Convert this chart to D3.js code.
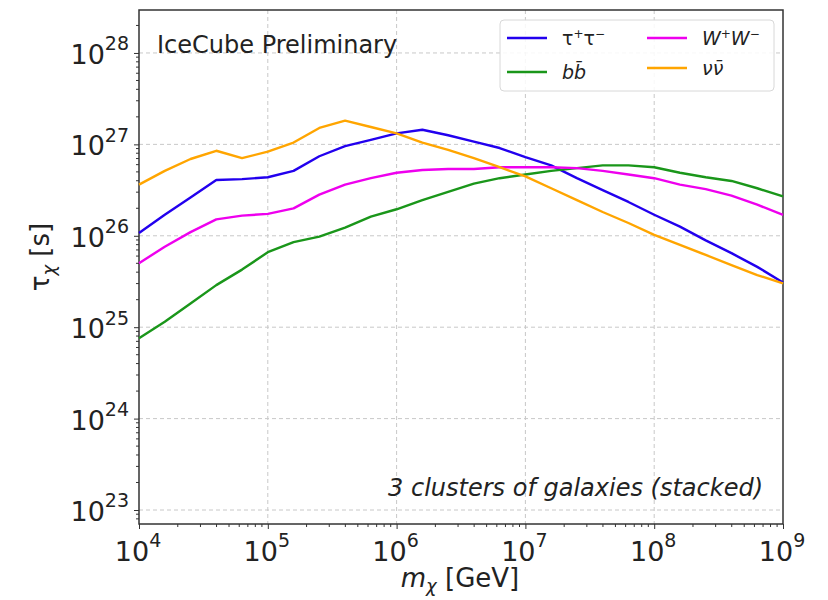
<!DOCTYPE html>
<html>
<head>
<meta charset="utf-8">
<script src="https://cdn.jsdelivr.net/npm/d3@7"></script>
<style>
  body { margin: 0; background: #fff; }
  svg { font-family: "DejaVu Sans", sans-serif; }
  .grid line { stroke: #c8c8c8; stroke-dasharray: 4,3; stroke-width: 1; }
  .axis path, .axis line { stroke: #333; }
</style>
</head>
<body>
<div class="chart"></div>
<script>

//////////
// DATA //
//////////

// log10 of the mass grid (GeV)
var logMass = [4.0, 4.2, 4.4, 4.6, 4.8, 5.0, 5.2, 5.4, 5.6, 5.8, 6.0, 6.2, 6.4,
               6.6, 6.8, 7.0, 7.2, 7.4, 7.6, 7.8, 8.0, 8.2, 8.4, 8.6, 8.8, 9.0];

// log10 of lifetime limits (s)
var tauTau = [26.03, 26.23, 26.42, 26.61, 26.62, 26.64, 26.71, 26.87, 26.98, 27.05, 27.12, 27.16, 27.10,
              27.03, 26.96, 26.86, 26.77, 26.63, 26.50, 26.37, 26.23, 26.10, 25.95, 25.81, 25.66, 25.49];
var bb = [24.88, 25.06, 25.26, 25.46, 25.63, 25.82, 25.93, 25.99, 26.09, 26.21, 26.29, 26.39, 26.48,
          26.57, 26.63, 26.67, 26.71, 26.74, 26.77, 26.77, 26.75, 26.69, 26.64, 26.60, 26.52, 26.43];
var WW = [25.70, 25.88, 26.04, 26.18, 26.22, 26.24, 26.30, 26.45, 26.56, 26.63, 26.69, 26.72, 26.73,
          26.73, 26.75, 26.75, 26.75, 26.74, 26.71, 26.67, 26.63, 26.56, 26.51, 26.44, 26.34, 26.23];
var nuNu = [26.56, 26.71, 26.84, 26.93, 26.85, 26.92, 27.02, 27.18, 27.26, 27.19, 27.12, 27.02, 26.94,
            26.85, 26.75, 26.65, 26.52, 26.39, 26.26, 26.14, 26.01, 25.90, 25.79, 25.68, 25.57, 25.48];

var xTicks = [4, 5, 6, 7, 8, 9];
var yTicks = [23, 24, 25, 26, 27, 28];

var series = [
    { name: 'tau', values: tauTau, color: '#2200ee' },
    { name: 'bb', values: bb, color: '#1a961a' },
    { name: 'WW', values: WW, color: '#ee00ee' },
    { name: 'nunu', values: nuNu, color: '#ffa500' }
];

////////////////
// DIMENSIONS //
////////////////

var w = 828, h = 600;
var mLeft = 139, mRight = 783, mTop = 10, mBottom = 524;

var svg = d3.select('.chart')
    .append('svg')
    .attr('width', w)
    .attr('height', h);

////////////
// SCALES //
////////////

var xScale = d3.scaleLog()
    .domain([1e4, 1e9])
    .range([mLeft, mRight]);

// bottom and top of the frame sit a bit beyond 10^23 / 10^28
var yScale = d3.scaleLog()
    .domain([Math.pow(10, 22.847), Math.pow(10, 28.47)])
    .range([mBottom, mTop]);

//////////
// GRID //
//////////

var grid = svg.append('g').attr('class', 'grid');

grid.selectAll('.gx')
    .data(xTicks.slice(1, -1))
    .enter()
    .append('line')
    .attr('x1', function(d) { return xScale(Math.pow(10, d)); })
    .attr('x2', function(d) { return xScale(Math.pow(10, d)); })
    .attr('y1', mTop)
    .attr('y2', mBottom);

grid.selectAll('.gy')
    .data(yTicks)
    .enter()
    .append('line')
    .attr('x1', mLeft)
    .attr('x2', mRight)
    .attr('y1', function(d) { return yScale(Math.pow(10, d)); })
    .attr('y2', function(d) { return yScale(Math.pow(10, d)); });

//////////
// AXES //
//////////

function supLabel(sel, d) {
    sel.text(null);
    sel.append('tspan').text('10');
    sel.append('tspan')
        .attr('dy', '-0.72em')
        .style('font-size', '19px')
        .text(d);
}

var xAxis = d3.axisBottom(xScale)
    .tickValues(xTicks.map(function(d) { return Math.pow(10, d); }))
    .tickSize(5)
    .tickFormat('');

var xg = svg.append('g')
    .attr('class', 'axis')
    .attr('transform', 'translate(0,' + mBottom + ')')
    .call(xAxis);
xg.select('.domain').remove();

// minor x ticks
var xMinor = [];
xTicks.slice(0, -1).forEach(function(p) {
    for (var k = 2; k < 10; k++) xMinor.push(k * Math.pow(10, p));
});
svg.append('g').selectAll('line')
    .data(xMinor)
    .enter()
    .append('line')
    .attr('x1', function(d) { return xScale(d); })
    .attr('x2', function(d) { return xScale(d); })
    .attr('y1', mBottom)
    .attr('y2', mBottom + 3)
    .attr('stroke', '#333');

svg.append('g').selectAll('text')
    .data(xTicks)
    .enter()
    .append('text')
    .attr('x', function(d) { return xScale(Math.pow(10, d)) - 1; })
    .attr('y', mBottom + 37)
    .attr('text-anchor', 'middle')
    .style('font-size', '27px')
    .style('fill', '#222')
    .each(function(d) { supLabel(d3.select(this), d); });

var yAxis = d3.axisLeft(yScale)
    .tickValues(yTicks.map(function(d) { return Math.pow(10, d); }))
    .tickSize(5)
    .tickFormat('');

var yg = svg.append('g')
    .attr('class', 'axis')
    .attr('transform', 'translate(' + mLeft + ',0)')
    .call(yAxis);
yg.select('.domain').remove();

var yMinor = [];
[22, 23, 24, 25, 26, 27, 28].forEach(function(p) {
    for (var k = 2; k < 10; k++) {
        var v = k * Math.pow(10, p);
        if (yScale(v) > mTop && yScale(v) < mBottom) yMinor.push(v);
    }
});
svg.append('g').selectAll('line')
    .data(yMinor)
    .enter()
    .append('line')
    .attr('x1', mLeft - 3)
    .attr('x2', mLeft)
    .attr('y1', function(d) { return yScale(d); })
    .attr('y2', function(d) { return yScale(d); })
    .attr('stroke', '#333');

svg.append('g').selectAll('text')
    .data(yTicks)
    .enter()
    .append('text')
    .attr('x', mLeft - 10)
    .attr('y', function(d) { return yScale(Math.pow(10, d)) + 11; })
    .attr('text-anchor', 'end')
    .style('font-size', '27px')
    .style('fill', '#222')
    .each(function(d) { supLabel(d3.select(this), d); });

// frame
svg.append('rect')
    .attr('x', mLeft)
    .attr('y', mTop)
    .attr('width', mRight - mLeft)
    .attr('height', mBottom - mTop)
    .attr('fill', 'none')
    .attr('stroke', '#333')
    .attr('stroke-width', 1.5);

///////////
// LINES //
///////////

var line = d3.line()
    .x(function(d, i) { return xScale(Math.pow(10, logMass[i])); })
    .y(function(d) { return yScale(Math.pow(10, d)); });

svg.selectAll('.series')
    .data(series)
    .enter()
    .append('path')
    .attr('class', 'series')
    .attr('d', function(d) { return line(d.values); })
    .attr('fill', 'none')
    .attr('stroke', function(d) { return d.color; })
    .attr('stroke-width', 2.4)
    .attr('stroke-linejoin', 'round');

////////////
// LABELS //
////////////

var xl = svg.append('text')
    .attr('x', 460)
    .attr('y', 587)
    .attr('text-anchor', 'middle')
    .style('font-size', '26px')
    .style('fill', '#222');
xl.append('tspan').style('font-style', 'italic').text('m');
xl.append('tspan').attr('dy', '5').style('font-size', '18px').style('font-style', 'italic').text('χ');
xl.append('tspan').attr('dy', '-5').text(' [GeV]');

var yl = svg.append('text')
    .attr('transform', 'translate(49,257) rotate(-90)')
    .attr('text-anchor', 'middle')
    .style('font-size', '26px')
    .style('fill', '#222');
yl.append('tspan').text('τ');
yl.append('tspan').attr('dy', '6').style('font-size', '18px').style('font-style', 'italic').text('χ');
yl.append('tspan').attr('dy', '-6').text(' [s]');

svg.append('text')
    .attr('x', 157)
    .attr('y', 53)
    .style('font-size', '24px')
    .style('fill', '#222')
    .text('IceCube Preliminary');

svg.append('text')
    .attr('x', 763)
    .attr('y', 496)
    .attr('text-anchor', 'end')
    .style('font-size', '24px')
    .style('font-style', 'italic')
    .style('fill', '#222')
    .text('3 clusters of galaxies (stacked)');

////////////
// LEGEND //
////////////

var legend = svg.append('g');

legend.append('rect')
    .attr('x', 500)
    .attr('y', 20)
    .attr('width', 274)
    .attr('height', 71)
    .attr('rx', 4)
    .attr('fill', 'rgba(255,255,255,0.85)')
    .attr('stroke', '#d8d8d8');

var legendItems = [
    { s: series[0], x: 507, y: 38, label: ['τ', '+', 'τ', '−'], italic: false },
    { s: series[1], x: 507, y: 72, label: ['b', '', 'b̄', ''], italic: true },
    { s: series[2], x: 647, y: 38, label: ['W', '+', 'W', '−'], italic: true },
    { s: series[3], x: 647, y: 68, label: ['ν', '', 'ν̄', ''], italic: true }
];

legendItems.forEach(function(d) {
    legend.append('line')
        .attr('x1', d.x)
        .attr('x2', d.x + 40)
        .attr('y1', d.y)
        .attr('y2', d.y)
        .attr('stroke', d.s.color)
        .attr('stroke-width', 2.4);
    var t = legend.append('text')
        .attr('x', d.x + 55)
        .attr('y', d.y + 7)
        .style('font-size', '19px')
        .style('font-style', d.italic ? 'italic' : 'normal')
        .style('fill', '#222');
    t.append('tspan').text(d.label[0]);
    if (d.label[1]) t.append('tspan').attr('dy', '-7').style('font-size', '12px').text(d.label[1]);
    t.append('tspan').attr('dy', d.label[1] ? '7' : '0').text(d.label[2]);
    if (d.label[3]) t.append('tspan').attr('dy', '-7').style('font-size', '12px').text(d.label[3]);
});

</script>
</body>
</html>
